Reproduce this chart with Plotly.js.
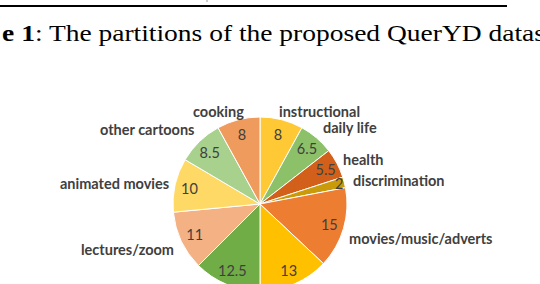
<!DOCTYPE html>
<html><head><meta charset="utf-8">
<script src="https://cdn.plot.ly/plotly-3.0.1.min.js"></script>
<style>html,body{margin:0;padding:0;overflow:hidden;background:#fff;width:540px;height:284px}</style>
</head><body><div id="chart"></div>
<script>
// slices clockwise from 12 o'clock
const categories = ["instructional", "daily life", "health", "discrimination", "movies/music/adverts", "slice 13", "slice 12.5", "lectures/zoom", "animated movies", "other cartoons", "cooking"];
const values = [8, 6.5, 5.5, 2, 15, 13, 12.5, 11, 10, 8.5, 8];
const shownLabels = [true, true, true, true, true, false, false, true, true, true, true];
const colors = ["#FFC935", "#8DC169", "#D2601A", "#C99A0A", "#ED7D31", "#FFC000", "#70AD47", "#F4B183", "#FFD966", "#A9D18E", "#F09B5E"];
// label anchor positions in pixels (center x, center y)
const labelPos = [[319,111],[350,127],[363,159],[398,181],[420,238],null,null,[127,249],[114,183],[147,129],[218,111]];
const titleText = '<b>e 1</b>: The partitions of the proposed QuerYD datas';

const W = 540, H = 300;
const px = x => x / W, py = y => (H - y) / H;
const domain = {x: [173 / W, 347 / W], y: [py(291), py(117)]};

const annotations = [];
categories.forEach((c, i) => {
  if (!shownLabels[i] || !labelPos[i]) return;
  annotations.push({text: c, x: px(labelPos[i][0]), y: py(labelPos[i][1]), xref: 'paper', yref: 'paper',
    xanchor: 'center', yanchor: 'middle', showarrow: false,
    font: {family: 'Lato', size: 14.5, color: '#404040', weight: 'bold'}});
});
annotations.push({text: titleText, x: 0, y: py(34),
  xref: 'paper', yref: 'paper', xanchor: 'left', yanchor: 'middle', showarrow: false,
  font: {family: 'Liberation Serif', size: 22.5, color: '#000'}});

const slices = {
  type: 'pie', values: values, labels: categories, sort: false, direction: 'clockwise', rotation: 0,
  marker: {colors: colors, line: {color: '#ffffff', width: 1}},
  textinfo: 'none', domain: domain, showlegend: false, hoverinfo: 'none'
};
const valueText = {
  type: 'pie', values: values, labels: categories, sort: false, direction: 'clockwise', rotation: 0,
  hole: 0.66,
  marker: {colors: values.map(() => 'rgba(0,0,0,0)'), line: {width: 0}},
  textinfo: 'text', text: values.map(v => String(v)), textposition: 'inside', insidetextorientation: 'horizontal',
  textfont: {family: 'Lato', size: 14.5, color: '#404040'},
  domain: domain, showlegend: false, hoverinfo: 'none'
};

Plotly.newPlot('chart', [slices, valueText], {
  width: W, height: H, margin: {l: 0, r: 0, t: 0, b: 0},
  paper_bgcolor: '#fff', showlegend: false, annotations: annotations,
  uniformtext: {mode: 'show', minsize: 14.5},
  shapes: [
    {type: 'line', xref: 'paper', yref: 'paper', x0: 0, x1: px(507), y0: py(6), y1: py(6), line: {color: '#000', width: 2}},
    {type: 'line', xref: 'paper', yref: 'paper', x0: px(207), x1: px(207), y0: py(0), y1: py(2), line: {color: '#999', width: 1}}
  ]
}, {staticPlot: true}).then(gd => {
  // stretch the (horizontally wide) caption text to the reference width
  document.querySelectorAll('.annotation-text').forEach(t => {
    if (t.textContent.indexOf('QuerYD') < 0) return;
    const b = t.getBBox();
    const sx = 543 / b.width;
    t.setAttribute('transform', `translate(${b.x},0) scale(${sx},1) translate(${-b.x},0)`);
  });
});
</script></body></html>
